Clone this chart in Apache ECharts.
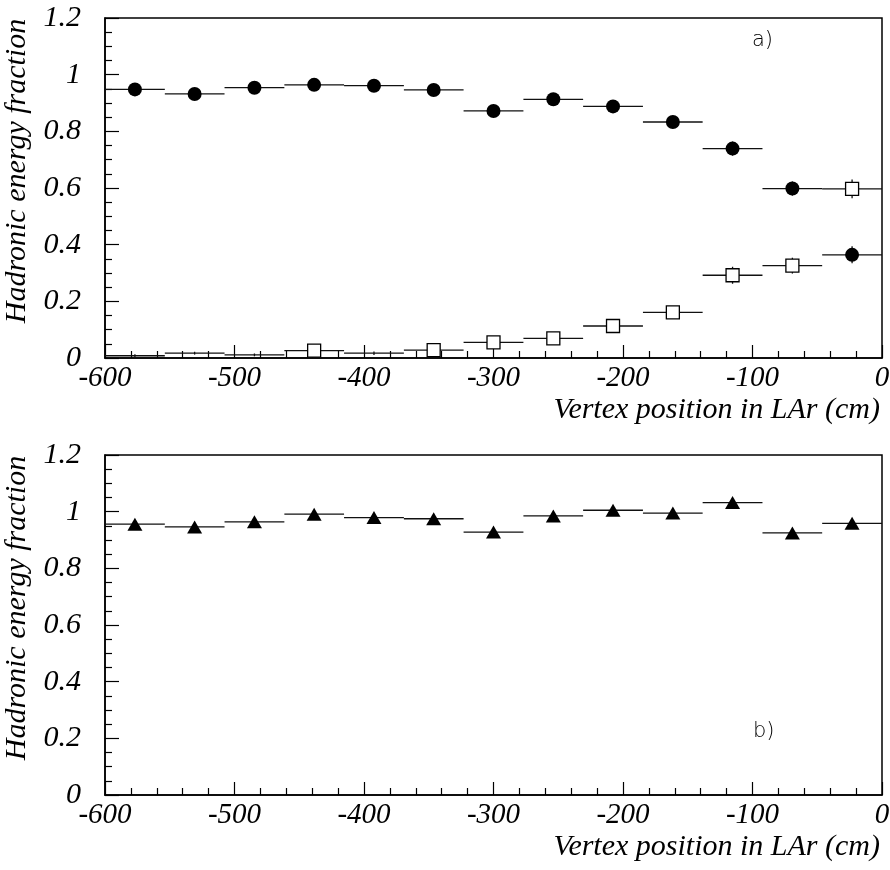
<!DOCTYPE html>
<html>
<head>
<meta charset="utf-8">
<script src="https://cdn.jsdelivr.net/npm/echarts@6/dist/echarts.min.js"></script>
<style>
html,body{margin:0;padding:0;background:#fff;}
#chart{width:890px;height:870px;}
</style>
</head>
<body>
<div id="chart"></div>
<script>
// Bin edges and centres (13 bins from -600 to 0 cm)
const binEdges = [-600, -553.8, -507.7, -461.5, -415.4, -369.2, -323.1, -276.9, -230.8, -184.6, -138.5, -92.3, -46.2, 0];
const binCenters = [-576.9, -530.8, -484.6, -438.5, -392.3, -346.2, -300, -253.8, -207.7, -161.5, -115.4, -69.2, -23.1];

// Panel a) : filled circles
const circleValues = [0.948, 0.932, 0.954, 0.964, 0.961, 0.946, 0.872, 0.913, 0.888, 0.833, 0.739, 0.598, 0.364];
const circleErrors = [0.005, 0.005, 0.005, 0.005, 0.005, 0.005, 0.008, 0.008, 0.01, 0.01, 0.025, 0.025, 0.03];

// Panel a) : open squares
const squareValues = [0.008, 0.017, 0.011, 0.026, 0.017, 0.028, 0.055, 0.069, 0.113, 0.161, 0.292, 0.326, 0.597];
const squareErrors = [0.005, 0.005, 0.005, 0.006, 0.006, 0.008, 0.01, 0.01, 0.012, 0.015, 0.03, 0.028, 0.033];
const squareMarked = [false, false, false, true, false, true, true, true, true, true, true, true, true];

// Panel b) : filled triangles
const triangleValues = [0.956, 0.946, 0.964, 0.991, 0.979, 0.975, 0.928, 0.985, 1.005, 0.995, 1.032, 0.925, 0.959];
const triangleErrors = [0.005, 0.005, 0.005, 0.005, 0.005, 0.005, 0.005, 0.005, 0.005, 0.005, 0.005, 0.005, 0.005];

const xTicks = { min: -600, max: 0, interval: 100 };
const yTicks = { min: 0, max: 1.2, interval: 0.2 };
const xName = 'Vertex position in LAr (cm)';
const yName = 'Hadronic energy fraction';

function errData(values, errors) {
  return values.map((v, i) => [binCenters[i], v, binEdges[i], binEdges[i + 1], errors[i]]);
}
function pointData(values, mask) {
  const out = [];
  values.forEach((v, i) => { if (!mask || mask[i]) out.push([binCenters[i], v]); });
  return out;
}

function errRender(params, api) {
  const x = api.value(0), y = api.value(1), x0 = api.value(2), x1 = api.value(3), e = api.value(4);
  const a = api.coord([x0, y]), b = api.coord([x1, y]);
  const c = api.coord([x, y - e]), d = api.coord([x, y + e]);
  const st = { stroke: '#111', lineWidth: 1.3 };
  return {
    type: 'group',
    children: [
      { type: 'line', shape: { x1: a[0], y1: a[1], x2: b[0], y2: b[1] }, style: st },
      { type: 'line', shape: { x1: c[0], y1: c[1], x2: d[0], y2: d[1] }, style: st }
    ]
  };
}

const serif = 'Liberation Serif';
const tickFont = { fontFamily: serif, fontStyle: 'italic', fontSize: 29, color: '#000' };

function xAxisFor(gi) {
  return {
    type: 'value', gridIndex: gi, min: xTicks.min, max: xTicks.max, interval: xTicks.interval,
    name: xName, nameLocation: 'end', nameGap: -2,
    nameTruncate: { maxWidth: 600 },
    nameTextStyle: { fontFamily: serif, fontStyle: 'italic', fontSize: 30, color: '#000',
      align: 'right', verticalAlign: 'top', padding: [37, 0, 0, 0] },
    axisLine: { show: true, onZero: false, lineStyle: { color: '#000', width: 1.5 } },
    axisTick: { show: true, inside: true, length: 13, lineStyle: { color: '#000', width: 1.2 } },
    minorTick: { show: true, splitNumber: 5, length: 7, lineStyle: { color: '#000', width: 1.2 } },
    axisLabel: Object.assign({ margin: 6 }, tickFont),
    splitLine: { show: false }
  };
}
function yAxisFor(gi) {
  return {
    type: 'value', gridIndex: gi, position: 'left', min: yTicks.min, max: yTicks.max, interval: yTicks.interval,
    name: yName, nameLocation: 'middle', nameGap: 68, nameRotate: 90,
    nameTextStyle: { fontFamily: serif, fontStyle: 'italic', fontSize: 30, color: '#000', padding: [0, 0, 0, 34] },
    axisLine: { show: true, onZero: false, lineStyle: { color: '#000', width: 1.5 } },
    axisTick: { show: true, inside: true, length: 14, lineStyle: { color: '#000', width: 1.2 } },
    minorTick: { show: true, splitNumber: 4, length: 7, lineStyle: { color: '#000', width: 1.2 } },
    axisLabel: Object.assign({ margin: 24 }, tickFont, { fontSize: 30 }),
    splitLine: { show: false }
  };
}

const chart = echarts.init(document.getElementById('chart'), null, { renderer: 'canvas' });
chart.setOption({
  backgroundColor: '#fff',
  animation: false,
  grid: [
    { left: 105, right: 8, top: 18, height: 340, show: true, borderColor: '#000', borderWidth: 1.5,
      backgroundColor: 'transparent', containLabel: false, outerBoundsMode: 'none' },
    { left: 105, right: 8, top: 455, height: 340, show: true, borderColor: '#000', borderWidth: 1.5,
      backgroundColor: 'transparent', containLabel: false, outerBoundsMode: 'none' }
  ],
  xAxis: [xAxisFor(0), xAxisFor(1)],
  yAxis: [yAxisFor(0), yAxisFor(1)],
  graphic: [
    { type: 'text', left: 752, top: 30, style: { text: 'a)', fontFamily: 'DejaVu Sans', fontWeight: 300, fontSize: 21, fill: '#000' } },
    { type: 'text', left: 753, top: 721, style: { text: 'b)', fontFamily: 'DejaVu Sans', fontWeight: 300, fontSize: 21, fill: '#000' } }
  ],
  series: [
    { type: 'custom', xAxisIndex: 0, yAxisIndex: 0, renderItem: errRender, data: errData(circleValues, circleErrors), encode: { x: [0, 2, 3], y: 1 }, z: 2 },
    { type: 'custom', xAxisIndex: 0, yAxisIndex: 0, renderItem: errRender, data: errData(squareValues, squareErrors), encode: { x: [0, 2, 3], y: 1 }, z: 2 },
    { type: 'scatter', xAxisIndex: 0, yAxisIndex: 0, symbol: 'circle', symbolSize: 14, data: pointData(circleValues),
      itemStyle: { color: '#000', opacity: 1 }, z: 5 },
    { type: 'scatter', xAxisIndex: 0, yAxisIndex: 0, symbol: 'rect', symbolSize: 13, data: pointData(squareValues, squareMarked),
      itemStyle: { color: '#fff', borderColor: '#000', borderWidth: 1.3, opacity: 1 }, z: 5 },
    { type: 'custom', xAxisIndex: 1, yAxisIndex: 1, renderItem: errRender, data: errData(triangleValues, triangleErrors), encode: { x: [0, 2, 3], y: 1 }, z: 2 },
    { type: 'scatter', xAxisIndex: 1, yAxisIndex: 1, symbol: 'triangle', symbolSize: [15, 13], data: pointData(triangleValues),
      itemStyle: { color: '#000', opacity: 1 }, z: 5 }
  ]
});
</script>
</body>
</html>
